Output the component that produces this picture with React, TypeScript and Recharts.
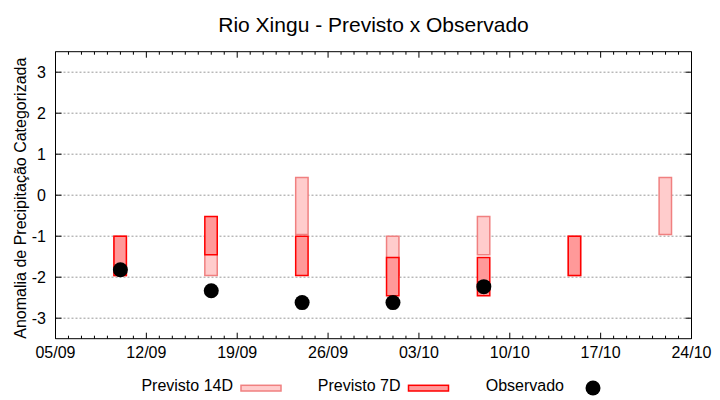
import React from 'react';
import {
  ComposedChart,
  Bar,
  Scatter,
  XAxis,
  YAxis,
  CartesianGrid,
  Legend,
  Customized,
} from 'recharts';

// ---- data ----
const dates = ['10/09', '17/09', '24/09', '01/10', '08/10', '15/10', '22/10'];
const prev14Low = [-1.96, -1.96, -0.96, -1.96, -1.45, -1.96, -0.96];
const prev14High = [-1.0, -1.0, 0.43, -1.0, -0.52, -1.0, 0.43];
const prev7Low: (number | null)[] = [-1.96, -1.45, -1.96, -2.45, -2.45, -1.96, null];
const prev7High: (number | null)[] = [-1.0, -0.52, -1.0, -1.52, -1.52, -1.0, null];
const observed: (number | null)[] = [-1.82, -2.33, -2.62, -2.62, -2.23, null, null];
const xTickLabels = ['05/09', '12/09', '19/09', '26/09', '03/10', '10/10', '17/10', '24/10'];
const yTicks = [-3, -2, -1, 0, 1, 2, 3];
const seriesNames = ['Previsto 14D', 'Previsto 7D', 'Observado'];

const TITLE = 'Rio Xingu - Previsto x Observado';
const Y_LABEL = 'Anomalia de Precipitação Categorizada';

const FONT = '"Liberation Sans", Arial, sans-serif';

const YEAR = 2023;
const dayOf = (s: string) => {
  const [dd, mm] = s.split('/').map(Number);
  return Math.round((Date.UTC(YEAR, mm - 1, dd) - Date.UTC(YEAR, 8, 5)) / 86400000);
};

const majorTicks = xTickLabels.map(dayOf);
const lastDay = majorTicks[majorTicks.length - 1];
const allDays = Array.from({ length: lastDay + 1 }, (_, i) => i);
const labelByDay: Record<number, string> = {};
xTickLabels.forEach((l) => (labelByDay[dayOf(l)] = l));

const data = dates.map((d, i) => ({
  d: dayOf(d),
  p14: [prev14Low[i], prev14High[i]],
  p7: prev7Low[i] == null ? null : [prev7Low[i], prev7High[i]],
}));
const obsData = dates
  .map((d, i) => ({ d: dayOf(d), obs: observed[i] }))
  .filter((o) => o.obs != null);

// ---- ticks ----
const BottomTick = (props: any) => {
  const { x, y, payload } = props;
  const major = labelByDay[payload.value] !== undefined;
  return (
    <g>
      <line x1={x} x2={x} y1={y} y2={y - (major ? 6 : 3)} stroke="#000" strokeWidth={1} />
      {major && (
        <text x={x} y={y + 19.3} textAnchor="middle" fontSize={16} fontFamily={FONT} fill="#000">
          {labelByDay[payload.value]}
        </text>
      )}
    </g>
  );
};

const TopTick = (props: any) => {
  const { x, y, payload } = props;
  const major = labelByDay[payload.value] !== undefined;
  return <line x1={x} x2={x} y1={y} y2={y + (major ? 6 : 3)} stroke="#000" strokeWidth={1} />;
};

const LeftTick = (props: any) => {
  const { x, y, payload } = props;
  return (
    <g>
      <line x1={x} x2={x + 6} y1={y} y2={y} stroke="#000" strokeWidth={1} />
      <text x={x - 9.5} y={y} dy="0.35em" textAnchor="end" fontSize={16} fontFamily={FONT} fill="#000">
        {payload.value}
      </text>
    </g>
  );
};

const RightTick = (props: any) => {
  const { x, y } = props;
  return <line x1={x} x2={x - 6} y1={y} y2={y} stroke="#000" strokeWidth={1} />;
};

const YLabel = (props: any) => {
  const vb = props.viewBox || { x: 0, y: 51.7, width: 55.5, height: 287 };
  const cx = vb.x + 26;
  const cy = vb.y + vb.height / 2 + 3;
  return (
    <text
      x={cx}
      y={cy}
      transform={`rotate(-90, ${cx}, ${cy})`}
      textAnchor="middle"
      fontSize={16}
      fontFamily={FONT}
      fill="#000"
    >
      {Y_LABEL}
    </text>
  );
};

const Title = () => (
  <text x={373.5} y={31.5} textAnchor="middle" fontSize={21} fontFamily={FONT} fill="#000">
    {TITLE}
  </text>
);

const C14 = { fill: '#ffcccc', stroke: '#f08080' };
const C7 = { fill: '#ff9999', stroke: '#ff0000' };

const LegendContent = (props: any) => {
  const payload = props.payload || [];
  const layout: Record<string, { textEnd: number; kind: string }> = {
    [seriesNames[0]]: { textEnd: 233, kind: 'p14' },
    [seriesNames[1]]: { textEnd: 400.5, kind: 'p7' },
    [seriesNames[2]]: { textEnd: 564, kind: 'obs' },
  };
  return (
    <svg width={720} height={28} style={{ display: 'block' }}>
      {payload.map((p: any, i: number) => {
        const it = layout[p.value];
        if (!it) return null;
        return (
          <g key={i}>
            <text x={it.textEnd} y={19.3} textAnchor="end" fontSize={16} fontFamily={FONT} fill="#000">
              {p.value}
            </text>
            {it.kind === 'obs' ? (
              <circle cx={it.textEnd + 29} cy={16} r={7.5} fill="#000" />
            ) : (
              <rect
                x={it.textEnd + 8}
                y={13.3}
                width={40}
                height={5.7}
                fill={it.kind === 'p14' ? C14.fill : C7.fill}
                stroke={it.kind === 'p14' ? C14.stroke : C7.stroke}
                strokeWidth={1.5}
              />
            )}
          </g>
        );
      })}
    </svg>
  );
};

export default function App() {
  return (
    <div style={{ position: 'absolute', left: 0, top: 0, width: 720, height: 400, background: '#fff' }}>
      <ComposedChart
        width={720}
        height={400}
        data={data}
        margin={{ top: 49.7, right: 26.5, bottom: 31.3, left: 0 }}
      >
        <CartesianGrid
          xAxisId="main"
          yAxisId="left"
          vertical={false}
          horizontal
          stroke="#999"
          strokeDasharray="2 2"
          horizontalValues={yTicks}
        />
        <XAxis
          xAxisId="main"
          dataKey="d"
          type="number"
          domain={[0, lastDay]}
          ticks={allDays}
          interval={0}
          allowDataOverflow
          height={30}
          tickSize={0}
          tickMargin={0}
          tickLine={false}
          tick={<BottomTick />}
          axisLine={{ stroke: '#000', strokeWidth: 1 }}
        />
        <XAxis
          xAxisId="top"
          orientation="top"
          dataKey="d"
          type="number"
          domain={[0, lastDay]}
          ticks={allDays}
          interval={0}
          allowDataOverflow
          height={2}
          tickSize={0}
          tickMargin={0}
          tickLine={false}
          tick={<TopTick />}
          axisLine={{ stroke: '#000', strokeWidth: 1 }}
        />
        <YAxis
          yAxisId="left"
          type="number"
          domain={[-3.5, 3.5]}
          ticks={yTicks}
          interval={0}
          allowDataOverflow
          width={55.5}
          tickSize={0}
          tickMargin={0}
          tickLine={false}
          tick={<LeftTick />}
          axisLine={{ stroke: '#000', strokeWidth: 1 }}
          label={YLabel}
        />
        <YAxis
          yAxisId="right"
          orientation="right"
          type="number"
          domain={[-3.5, 3.5]}
          ticks={yTicks}
          interval={0}
          allowDataOverflow
          width={2}
          tickSize={0}
          tickMargin={0}
          tickLine={false}
          tick={<RightTick />}
          axisLine={{ stroke: '#000', strokeWidth: 1 }}
        />
        <Bar
          name={seriesNames[0]}
          dataKey="p14"
          xAxisId="main"
          yAxisId="left"
          barSize={12.4}
          fill={C14.fill}
          stroke={C14.stroke}
          strokeWidth={1.5}
          isAnimationActive={false}
        />
        <Bar
          name={seriesNames[1]}
          dataKey="p7"
          xAxisId="top"
          yAxisId="left"
          barSize={12.4}
          fill={C7.fill}
          stroke={C7.stroke}
          strokeWidth={1.5}
          isAnimationActive={false}
        />
        <Scatter
          name={seriesNames[2]}
          data={obsData}
          dataKey="obs"
          xAxisId="main"
          yAxisId="left"
          fill="#000"
          isAnimationActive={false}
          shape={(p: any) => <circle cx={p.cx} cy={p.cy} r={7.5} fill="#000" />}
        />
        <Legend
          verticalAlign="middle"
          align="center"
          layout="horizontal"
          wrapperStyle={{ position: 'absolute', top: 372, left: 0, width: 720, height: 28, margin: 0 }}
          content={<LegendContent />}
        />
        <Customized component={Title} />
      </ComposedChart>
    </div>
  );
}
